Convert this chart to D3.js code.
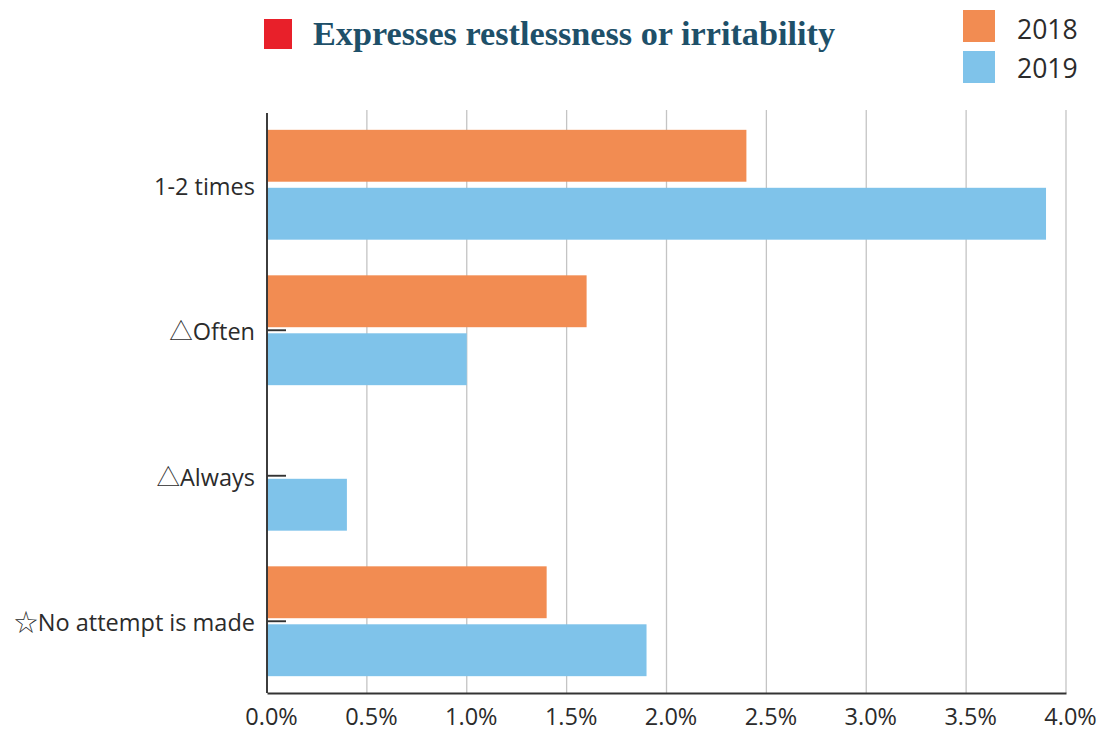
<!DOCTYPE html>
<html>
<head>
<meta charset="utf-8">
<script src="https://cdn.jsdelivr.net/npm/d3@7"></script>
<style>
  html, body { margin: 0; padding: 0; background: #fff; }
  svg { display: block; }
</style>
</head>
<body>
<svg id="chart" width="1098" height="733"></svg>
<script>
// Share of responses, in percent
const categories = ["1-2 times", "\u25B3Often", "\u25B3Always", "\u2606No attempt is made"];
const seriesNames = ["2018", "2019"];
const values2018 = [2.4, 1.6, 0, 1.4];
const values2019 = [3.9, 1.0, 0.4, 1.9];
const xTicks = [0, 0.5, 1.0, 1.5, 2.0, 2.5, 3.0, 3.5, 4.0];
const title = "Expresses restlessness or irritability";

const colors = { "2018": "#F28C52", "2019": "#7FC3EA" };
const sans = "'Open Sans', 'Noto Sans', sans-serif";
const symbolFont = "'Noto Sans CJK JP', 'DejaVu Sans', sans-serif";
const markSymbols = ["\u25B3", "\u2606"];

const rows = categories.map((c, i) => ({ category: c, "2018": values2018[i], "2019": values2019[i] }));

const svg = d3.select("#chart");
const plotLeft = 267, plotRight = 1066, plotTop = 112, plotBottom = 694;

const x = d3.scaleLinear().domain([0, 4]).range([plotLeft, plotRight]);
const y = d3.scaleBand().domain(categories).range([plotTop, plotBottom])
  .paddingInner(0.245).paddingOuter(0.1225);
const ySub = d3.scaleBand().domain(seriesNames).range([0, y.bandwidth()]).paddingInner(0.105);

// vertical gridlines
svg.append("g")
  .selectAll("line")
  .data(xTicks.slice(1))
  .join("line")
  .attr("x1", d => x(d)).attr("x2", d => x(d))
  .attr("y1", plotTop - 2).attr("y2", plotBottom - 1)
  .attr("stroke", "#c4c4c4").attr("stroke-width", 1.3);

// bars
const groups = svg.append("g")
  .selectAll("g")
  .data(rows)
  .join("g")
  .attr("transform", d => `translate(0,${y(d.category)})`);

groups.selectAll("rect")
  .data(d => seriesNames.map(s => ({ s, v: d[s] })))
  .join("rect")
  .attr("x", x(0))
  .attr("y", d => ySub(d.s))
  .attr("width", d => x(d.v) - x(0))
  .attr("height", ySub.bandwidth())
  .attr("fill", d => colors[d.s]);

// category axis; ticks point into the plot
const yAxis = svg.append("g")
  .attr("transform", `translate(${plotLeft},0)`)
  .call(d3.axisLeft(y).tickSizeInner(-19).tickSizeOuter(0).tickPadding(30));
yAxis.select(".domain").attr("stroke", "#333").attr("stroke-width", 1.9)
  .attr("d", `M0,${plotTop + 1}V${plotBottom - 1}`);
yAxis.selectAll(".tick line").attr("stroke", "#333").attr("stroke-width", 1.9)
  .attr("display", (d, i) => i === 0 ? "none" : null);
yAxis.selectAll(".tick text")
  .attr("x", -12)
  .attr("dy", "0.42em")
  .attr("fill", "#2b2b2b")
  .style("font-family", sans)
  .style("font-size", "23.5px")
  .each(function (d) {
    // leading marker symbols are set in a full-width face
    const t = d3.select(this).text("");
    const lead = markSymbols.includes(d[0]);
    if (lead) t.append("tspan").style("font-family", symbolFont).style("font-weight", 300).text(d[0]);
    t.append("tspan").text(lead ? d.slice(1) : d);
  });

// value axis
const xAxis = svg.append("g")
  .attr("transform", `translate(0,${plotBottom - 1})`)
  .call(d3.axisBottom(x).tickValues(xTicks).tickFormat(d => d.toFixed(1) + "%")
    .tickSize(0).tickPadding(15));
xAxis.select(".domain").attr("stroke", "#333").attr("stroke-width", 1.9);
xAxis.selectAll(".tick text")
  .attr("x", 4)
  .attr("fill", "#2b2b2b")
  .style("font-family", sans)
  .style("font-size", "23.5px");

// title with red marker
svg.append("rect").attr("x", 264).attr("y", 19).attr("width", 28).attr("height", 30)
  .attr("fill", "#E8202A");
svg.append("text")
  .attr("x", 313).attr("y", 45)
  .attr("fill", "#1E5069")
  .attr("textLength", 522)
  .attr("lengthAdjust", "spacingAndGlyphs")
  .style("font-family", "'Liberation Serif', 'DejaVu Serif', serif")
  .style("font-weight", "bold")
  .style("font-size", "33px")
  .text(title);

// legend
const legend = svg.append("g")
  .selectAll("g")
  .data(seriesNames)
  .join("g")
  .attr("transform", (d, i) => `translate(963,${10 + i * 41})`);
legend.append("rect").attr("width", 32).attr("height", 32).attr("fill", d => colors[d]);
legend.append("text")
  .attr("x", 54).attr("y", (d, i) => 29 - i * 2)
  .attr("fill", "#2b2b2b")
  .style("font-family", sans)
  .style("font-size", "26.5px")
  .text(d => d);
</script>
</body>
</html>
